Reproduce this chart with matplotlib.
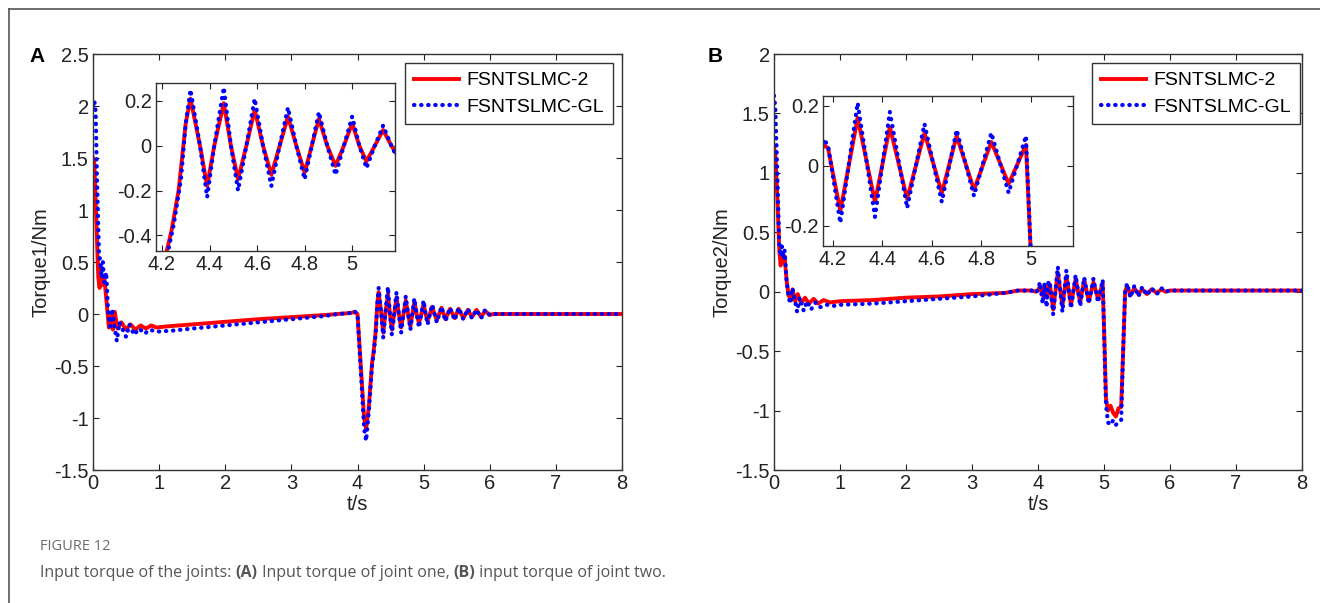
import matplotlib
matplotlib.use("Agg")
import matplotlib.pyplot as plt
from matplotlib.lines import Line2D

plt.rcParams['font.family'] = ['Liberation Sans', 'DejaVu Sans']
plt.rcParams['axes.unicode_minus'] = False

# ---------------- data ----------------
# Joint one, FSNTSLMC-2 (red)
t_a_fs2 = [0, 0.02, 0.05, 0.08, 0.10, 0.12, 0.14, 0.17, 0.20, 0.24, 0.27, 0.30, 0.33, 0.37,
           0.43, 0.50, 0.57, 0.64, 0.72, 0.80, 0.88, 0.96, 1.1, 1.5, 2.0, 2.5, 3.0, 3.5, 3.7,
           3.9, 3.95, 4.0, 4.05, 4.10, 4.13, 4.17, 4.22, 4.24, 4.27, 4.30, 4.32,
           4.36, 4.39, 4.42, 4.46, 4.49, 4.52, 4.555, 4.59, 4.625, 4.66, 4.695, 4.73, 4.765,
           4.80, 4.83, 4.86, 4.895, 4.93, 4.965, 5.0, 5.03, 5.06, 5.095, 5.13, 5.165,
           5.20, 5.27, 5.33, 5.40, 5.47, 5.53, 5.60, 5.67, 5.73, 5.80, 5.87, 5.93, 6.0, 6.05, 8.0]
y_a_fs2 = [1.5, 1.45, 0.9, 0.35, 0.25, 0.45, 0.28, 0.35, 0.15, -0.13, -0.02, -0.15, 0.02, -0.14,
           -0.08, -0.15, -0.10, -0.15, -0.11, -0.14, -0.11, -0.13, -0.12, -0.10, -0.075, -0.05, -0.03, -0.01, 0.0,
           0.01, 0.02, 0.0, -0.5, -1.0, -1.1, -0.9, -0.47, -0.38, -0.2, 0.1, 0.21,
           0.0, -0.18, 0.0, 0.19, 0.0, -0.15, 0.0, 0.16, 0.0, -0.13, 0.0, 0.13, 0.0,
           -0.12, 0.0, 0.12, 0.0, -0.09, 0.0, 0.10, 0.0, -0.07, 0.0, 0.07, 0.0,
           -0.06, 0.06, -0.05, 0.05, -0.04, 0.05, -0.04, 0.04, -0.03, 0.04, -0.03, 0.03, -0.01, 0.0, 0.0]

# Joint one, FSNTSLMC-GL (blue)
t_a_gl = [0, 0.02, 0.04, 0.06, 0.09, 0.11, 0.13, 0.15, 0.17, 0.20, 0.23, 0.26, 0.29, 0.32, 0.36,
          0.40, 0.45, 0.50, 0.55, 0.62, 0.70, 0.78, 0.86, 0.95, 1.2, 1.5, 2.0, 2.5, 3.0, 3.5, 3.7,
          3.9, 3.95, 4.0, 4.05, 4.10, 4.13, 4.17, 4.22, 4.25, 4.28, 4.30, 4.32,
          4.36, 4.39, 4.42, 4.46, 4.49, 4.52, 4.555, 4.59, 4.625, 4.66, 4.695, 4.73, 4.765,
          4.80, 4.83, 4.86, 4.895, 4.93, 4.965, 5.0, 5.03, 5.06, 5.095, 5.13, 5.165,
          5.20, 5.27, 5.33, 5.40, 5.47, 5.53, 5.60, 5.67, 5.73, 5.80, 5.87, 5.93, 6.0, 6.05, 8.0]
y_a_gl = [2.0, 2.05, 1.95, 1.3, 0.6, 0.5, 0.35, 0.5, 0.3, 0.4, 0.0, -0.12, 0.05, -0.1, -0.26,
          -0.08, -0.15, -0.22, -0.1, -0.2, -0.14, -0.19, -0.15, -0.17, -0.16, -0.14, -0.11, -0.08, -0.05, -0.02, 0.0,
          0.01, 0.03, 0.0, -0.55, -1.1, -1.22, -0.95, -0.5, -0.35, -0.15, 0.1, 0.25,
          0.0, -0.23, 0.0, 0.26, 0.0, -0.20, 0.0, 0.21, 0.0, -0.18, 0.0, 0.17, 0.0,
          -0.15, 0.0, 0.15, 0.0, -0.13, 0.0, 0.13, 0.0, -0.10, 0.0, 0.09, 0.0,
          -0.08, 0.07, -0.07, 0.06, -0.06, 0.06, -0.05, 0.05, -0.04, 0.04, -0.04, 0.04, -0.01, 0.0, 0.0]

# Joint two, FSNTSLMC-2 (red)
t_b_fs2 = [0, 0.02, 0.05, 0.08, 0.10, 0.12, 0.14, 0.16, 0.19, 0.22, 0.25, 0.28, 0.32, 0.36,
           0.41, 0.47, 0.53, 0.60, 0.67, 0.75, 0.85, 1.0, 1.5, 2.0, 2.5, 3.0, 3.5, 3.7, 3.9,
           3.97, 4.0, 4.03, 4.07, 4.10, 4.13, 4.16, 4.18, 4.23, 4.30, 4.37, 4.43, 4.50, 4.57,
           4.64, 4.70, 4.77, 4.84, 4.91, 4.98, 5.0, 5.03, 5.06, 5.10, 5.14, 5.18, 5.22, 5.26,
           5.29, 5.32, 5.35, 5.40, 5.46, 5.52, 5.58, 5.65, 5.72, 5.80, 5.87, 5.93, 6.0, 8.0]
y_b_fs2 = [1.22, 1.15, 0.8, 0.35, 0.22, 0.30, 0.25, 0.30, 0.10, -0.03, -0.06, 0.02, -0.08, -0.02,
           -0.10, -0.05, -0.10, -0.06, -0.10, -0.07, -0.09, -0.08, -0.07, -0.05, -0.04, -0.02, -0.01, 0.01, 0.01,
           0.0, 0.01, 0.05, -0.03, 0.04, -0.05, 0.07, 0.06, -0.15, 0.16, -0.12, 0.13, -0.11, 0.11,
           -0.09, 0.10, -0.08, 0.08, -0.06, 0.07, -0.3, -0.9, -1.0, -0.96, -1.02, -1.05, -0.98, -0.97,
           -0.5, 0.0, 0.05, -0.03, 0.03, -0.02, 0.02, -0.02, 0.02, -0.01, 0.02, 0.0, 0.01, 0.01]

# Joint two, FSNTSLMC-GL (blue)
t_b_gl = [0, 0.02, 0.05, 0.08, 0.10, 0.12, 0.14, 0.16, 0.19, 0.22, 0.25, 0.28, 0.31, 0.35,
          0.39, 0.45, 0.50, 0.56, 0.63, 0.70, 0.80, 0.90, 1.0, 1.5, 2.0, 2.5, 3.0, 3.5, 3.7, 3.9,
          3.97, 4.0, 4.03, 4.07, 4.10, 4.13, 4.16, 4.18, 4.23, 4.30, 4.37, 4.43, 4.50, 4.57,
          4.64, 4.70, 4.77, 4.84, 4.91, 4.98, 5.0, 5.03, 5.06, 5.10, 5.14, 5.18, 5.22, 5.26,
          5.29, 5.32, 5.35, 5.40, 5.46, 5.52, 5.58, 5.65, 5.72, 5.80, 5.87, 5.93, 6.0, 8.0]
y_b_gl = [1.65, 1.55, 1.0, 0.4, 0.30, 0.38, 0.28, 0.35, 0.10, -0.05, -0.10, 0.03, -0.05, -0.17,
          -0.05, -0.16, -0.08, -0.15, -0.09, -0.13, -0.11, -0.12, -0.11, -0.10, -0.08, -0.06, -0.04, -0.01, 0.01, 0.01,
          -0.01, 0.02, 0.08, -0.10, 0.07, -0.13, 0.09, 0.07, -0.19, 0.21, -0.17, 0.18, -0.14, 0.14,
          -0.12, 0.12, -0.10, 0.11, -0.09, 0.10, -0.3, -0.95, -1.10, -1.12, -1.08, -1.12, -1.10, -1.08,
          -0.5, 0.0, 0.07, -0.05, 0.05, -0.04, 0.04, -0.03, 0.03, -0.02, 0.03, 0.0, 0.01, 0.01]

series_names = ['FSNTSLMC-2', 'FSNTSLMC-GL']
x_ticks = [0, 1, 2, 3, 4, 5, 6, 7, 8]
y_ticks_a = [-1.5, -1, -0.5, 0, 0.5, 1, 1.5, 2, 2.5]
y_ticks_b = [-1.5, -1, -0.5, 0, 0.5, 1, 1.5, 2]
inset_xticks = [4.2, 4.4, 4.6, 4.8, 5]
inset_yticks_a = [-0.4, -0.2, 0, 0.2]
inset_yticks_b = [-0.2, 0, 0.2]

# ---------------- figure ----------------
W, H = 1320, 603
fig = plt.figure(figsize=(W / 100, H / 100), dpi=100)
fig.patch.set_facecolor('white')

FS = 14.5


def px_axes(x0, y0, x1, y1, **kw):
    return fig.add_axes([x0 / W, 1 - y1 / H, (x1 - x0) / W, (y1 - y0) / H], **kw)


def fmt(v):
    return '%g' % v


def style(ax, xt, yt, fs=FS):
    ax.set_xticks(xt)
    ax.set_xticklabels([fmt(v) for v in xt])
    ax.set_yticks(yt)
    ax.set_yticklabels([fmt(v) for v in yt])
    ax.tick_params(direction='in', length=4, width=0.8, top=True, right=True,
                   labelsize=fs, colors='#222222', pad=3)
    for s in ax.spines.values():
        s.set_color('#333333')
        s.set_linewidth(1.0)


RED = '#ff0000'
BLUE = '#0000ff'


def draw(ax, tr, yr, tb, yb, lw=2.8):
    l1, = ax.plot(tr, yr, color=RED, lw=lw, solid_joinstyle='round', label=series_names[0])
    l2, = ax.plot(tb, yb, color=BLUE, lw=lw + 0.2, linestyle=(0, (0.1, 1.6)),
                  dash_capstyle='round', label=series_names[1])
    return l1, l2


# frame of the figure page
fig.add_artist(Line2D([9 / W, 9 / W], [0, 1 - 9 / H], color='#555555', lw=1.2))
fig.add_artist(Line2D([9 / W, 1], [1 - 9 / H, 1 - 9 / H], color='#555555', lw=1.2))

panels = [
    dict(box=(93, 54, 622, 470), ylim=(-1.5, 2.5), yt=y_ticks_a, ylabel='Torque1/Nm',
         data=(t_a_fs2, y_a_fs2, t_a_gl, y_a_gl), letter='A', letter_x=29,
         inset=(156, 83, 395, 251), ixlim=(4.175, 5.18), iylim=(-0.47, 0.28), iyt=inset_yticks_a,
         leg=(613, 63)),
    dict(box=(774, 54, 1302, 470), ylim=(-1.5, 2.0), yt=y_ticks_b, ylabel='Torque2/Nm',
         data=(t_b_fs2, y_b_fs2, t_b_gl, y_b_gl), letter='B', letter_x=708,
         inset=(823, 96, 1073, 246), ixlim=(4.16, 5.17), iylim=(-0.267, 0.233), iyt=inset_yticks_b,
         leg=(1300, 63)),
]

for p in panels:
    ax = px_axes(*p['box'])
    ax.set_xlim(0, 8)
    ax.set_ylim(*p['ylim'])
    style(ax, x_ticks, p['yt'])
    ax.set_xlabel('t/s', fontsize=FS, labelpad=1, color='#222222')
    ax.set_ylabel(p['ylabel'], fontsize=FS, labelpad=3, color='#222222')
    h = draw(ax, *p['data'])
    lx, ly = p['leg']
    fig.legend(handles=list(h), labels=series_names, loc='upper right',
               bbox_to_anchor=(lx / W, 1 - ly / H), fontsize=14, frameon=True,
               fancybox=False, edgecolor='#333333', framealpha=1, borderpad=0.45,
               handlelength=2.3, handletextpad=0.4, labelspacing=0.45, borderaxespad=0)
    fig.text(p['letter_x'] / W, 1 - 56 / H, p['letter'], fontsize=15, fontweight='bold',
             ha='left', va='center', color='black')

    ins = px_axes(*p['inset'])
    ins.set_facecolor('white')
    ins.set_xlim(*p['ixlim'])
    ins.set_ylim(*p['iylim'])
    style(ins, inset_xticks, p['iyt'])
    draw(ins, *p['data'])

# caption
fig.text(40 / W, 1 - 546 / H, 'FIGURE 12', fontsize=10.5, color='#6b6b6b',
         family=['Open Sans', 'DejaVu Sans'], va='center', ha='left')

parts = [('Input torque of the joints: ', 'normal'), ('(A)', 'bold'),
         (' Input torque of joint one, ', 'normal'), ('(B)', 'bold'),
         (' input torque of joint two.', 'normal')]
fig.canvas.draw()
renderer = fig.canvas.get_renderer()
xcur = 40
for txt, wt in parts:
    t = fig.text(xcur / W, 1 - 573 / H, txt, fontsize=11.5, color='#555555', fontweight=wt,
                 family=['Open Sans', 'DejaVu Sans'], va='center', ha='left')
    bb = t.get_window_extent(renderer=renderer)
    xcur += bb.width

fig.savefig('out.png', dpi=100, facecolor='white')
